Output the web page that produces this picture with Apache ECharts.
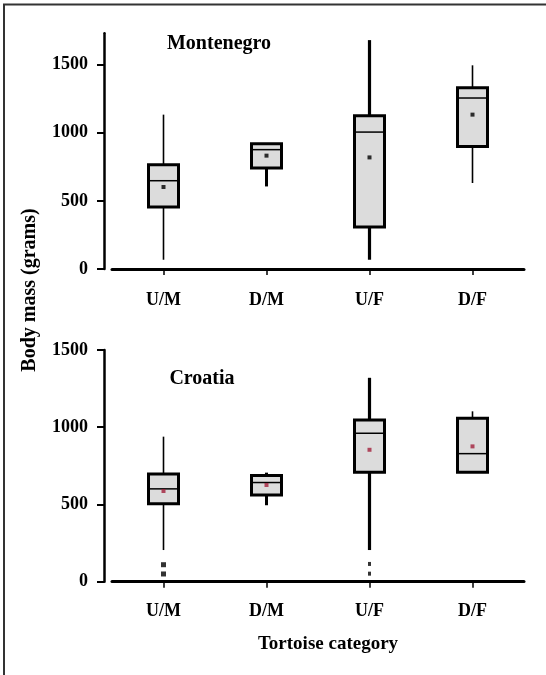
<!DOCTYPE html>
<html>
<head>
<meta charset="utf-8">
<script src="https://cdn.jsdelivr.net/npm/echarts@6/dist/echarts.min.js"></script>
<style>
  html, body { margin: 0; padding: 0; background: #ffffff; }
  #chart { width: 546px; height: 675px; }
</style>
</head>
<body>
<div id="chart"></div>
<script>
// ---------- data ----------
const categories = ['U/M', 'D/M', 'U/F', 'D/F'];
const yTicks = [0, 500, 1000, 1500];

// [min, Q1, median, Q3, max] per category
const montenegroBoxes = [
  [68, 455, 648, 766, 1133],
  [606, 741, 876, 920, 920],
  [68, 308, 1005, 1125, 1680],
  [631, 900, 1255, 1331, 1495]
];
const montenegroMeans = [602, 832, 819, 1133];

const croatiaBoxes = [
  [205, 504, 601, 698, 939],
  [495, 561, 642, 688, 706],
  [205, 709, 961, 1047, 1320],
  [709, 709, 829, 1058, 1103]
];
const croatiaMeans = [587, 626, 854, 876];
const croatiaOutliersUM = [110, 50];
const croatiaOutliersUF = [115, 52];

// ---------- styles ----------
const FONT = 'Liberation Serif';
const BOX_W = 30;
const montenegroWhiskerW = [1.6, 3, 3.2, 1.6];
const croatiaWhiskerW = [1.6, 3, 3.2, 1.6];

function makeRenderer(whiskerW) {
  return function (params, api) {
    const i = api.value(0);
    const lo = api.coord([i, api.value(1)]);
    const q1 = api.coord([i, api.value(2)]);
    const md = api.coord([i, api.value(3)]);
    const q3 = api.coord([i, api.value(4)]);
    const hi = api.coord([i, api.value(5)]);
    const x = lo[0];
    const ww = whiskerW[i];
    const children = [];
    if (hi[1] < q3[1] - 0.5) {
      children.push({ type: 'line', shape: { x1: x, y1: q3[1], x2: x, y2: hi[1] },
        style: { stroke: '#000', lineWidth: ww } });
    }
    if (lo[1] > q1[1] + 0.5) {
      children.push({ type: 'line', shape: { x1: x, y1: q1[1], x2: x, y2: lo[1] },
        style: { stroke: '#000', lineWidth: ww } });
    }
    children.push({ type: 'rect',
      shape: { x: x - BOX_W / 2, y: q3[1], width: BOX_W, height: q1[1] - q3[1] },
      style: { fill: '#dcdcdc', stroke: '#000', lineWidth: 3 } });
    children.push({ type: 'line',
      shape: { x1: x - BOX_W / 2, y1: md[1], x2: x + BOX_W / 2, y2: md[1] },
      style: { stroke: '#000', lineWidth: 1.5 } });
    return { type: 'group', children: children };
  };
}

function boxRows(boxes) {
  return boxes.map((b, i) => [i].concat(b));
}
function pointRows(vals) {
  return vals.map((v, i) => [i, v]);
}

const chart = echarts.init(document.getElementById('chart'), null, { renderer: 'canvas' });

function xAxisDef(gridIndex, offset) {
  return {
    type: 'category', gridIndex: gridIndex, data: categories, offset: offset,
    boundaryGap: true,
    axisLine: { show: true, lineStyle: { color: '#000', width: 3 } },
    axisTick: { show: true, alignWithLabel: true, length: 6, lineStyle: { color: '#000', width: 1.5 } },
    axisLabel: { interval: 0, margin: 17, color: '#000', fontFamily: FONT, fontWeight: 'bold', fontSize: 18 },
    splitLine: { show: false }
  };
}
function yAxisDef(gridIndex, max) {
  return {
    type: 'value', gridIndex: gridIndex, min: 0, max: max, offset: 8,
    axisLine: { show: true, lineStyle: { color: '#000', width: 2.5 } },
    axisTick: { show: true, length: 7, customValues: yTicks, lineStyle: { color: '#000', width: 2 } },
    axisLabel: { margin: 16, customValues: yTicks, formatter: v => String(v),
      color: '#000', fontFamily: FONT, fontWeight: 'bold', fontSize: 18 },
    splitLine: { show: false }
  };
}

const option = {
  animation: false,
  backgroundColor: '#ffffff',
  grid: [
    { left: 112, right: 22, top: 33.3, height: 235.7 },
    { left: 112, right: 22, top: 350, height: 231.7 }
  ],
  xAxis: [xAxisDef(0, 5), xAxisDef(1, 4)],
  yAxis: [yAxisDef(0, 1730), yAxisDef(1, 1500)],
  graphic: [
    { type: 'line', shape: { x1: 3, y1: 4.5, x2: 546, y2: 4.5 }, style: { stroke: '#333', lineWidth: 2 } },
    { type: 'line', shape: { x1: 4, y1: 4, x2: 4, y2: 675 }, style: { stroke: '#333', lineWidth: 2 } },
    { type: 'text', x: 219, y: 44, style: { text: 'Montenegro', fill: '#000', font: 'bold 20px "Liberation Serif"', textAlign: 'center', textVerticalAlign: 'middle' } },
    { type: 'text', x: 202, y: 379, style: { text: 'Croatia', fill: '#000', font: 'bold 20px "Liberation Serif"', textAlign: 'center', textVerticalAlign: 'middle' } },
    { type: 'text', x: 30, y: 290, rotation: Math.PI / 2, style: { text: 'Body mass (grams)', fill: '#000', font: 'bold 20px "Liberation Serif"', textAlign: 'center', textVerticalAlign: 'middle' } },
    { type: 'text', x: 328, y: 644, style: { text: 'Tortoise category', fill: '#000', font: 'bold 19px "Liberation Serif"', textAlign: 'center', textVerticalAlign: 'middle' } }
  ],
  series: [
    { type: 'custom', xAxisIndex: 0, yAxisIndex: 0, renderItem: makeRenderer(montenegroWhiskerW),
      encode: { x: 0, y: [1, 2, 3, 4, 5] }, data: boxRows(montenegroBoxes), z: 2 },
    { type: 'scatter', xAxisIndex: 0, yAxisIndex: 0, symbol: 'rect', symbolSize: 4,
      itemStyle: { color: '#000' }, data: pointRows(montenegroMeans), z: 5 },
    { type: 'custom', xAxisIndex: 1, yAxisIndex: 1, renderItem: makeRenderer(croatiaWhiskerW),
      encode: { x: 0, y: [1, 2, 3, 4, 5] }, data: boxRows(croatiaBoxes), z: 2 },
    { type: 'scatter', xAxisIndex: 1, yAxisIndex: 1, symbol: 'rect', symbolSize: 4,
      itemStyle: { color: '#a3203c' }, data: pointRows(croatiaMeans), z: 5 },
    { type: 'scatter', xAxisIndex: 1, yAxisIndex: 1, symbol: 'rect', symbolSize: 5,
      itemStyle: { color: '#000' }, data: croatiaOutliersUM.map(v => [0, v]), z: 5 },
    { type: 'scatter', xAxisIndex: 1, yAxisIndex: 1, symbol: 'rect', symbolSize: [3, 4],
      itemStyle: { color: '#000' }, data: croatiaOutliersUF.map(v => [2, v]), z: 5 }
  ]
};
chart.setOption(option);
</script>
</body>
</html>
